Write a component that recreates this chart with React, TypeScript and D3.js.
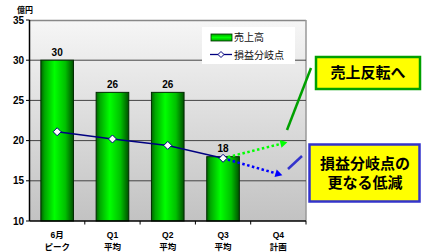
import React from "react";
import * as d3 from "d3";

const categories = ["6月", "Q1", "Q2", "Q3", "Q4"];
const categorySub = ["ピーク", "平均", "平均", "平均", "計画"];
const sales = [30, 26, 26, 18];
const breakEven = [21.1, 20.2, 19.4, 17.8];
const salesForecastQ4 = 19.8;
const breakEvenForecastQ4 = 15.7;
const yTicks = [10, 15, 20, 25, 30, 35];
const unitLabel = "億円";
const legendSales = "売上高";
const legendBreakEven = "損益分岐点";
const callout1 = ["売上反転へ"];
const callout2 = ["損益分岐点の", "更なる低減"];

const W = 422;
const H = 252;
const FONT = "Arial, 'Liberation Sans', 'Noto Sans CJK JP', sans-serif";
const JFONT = "'Noto Sans CJK JP', Arial, sans-serif";

export default function App() {
  const left = 29.5, right = 306, top = 20, bottom = 221;
  const x = d3.scaleBand<string>().domain(categories).range([left, right]).paddingInner(0.41).paddingOuter(0.205);
  const y = d3.scaleLinear().domain([10, 35]).range([bottom, top]);
  const bw = x.bandwidth();
  const cx = (i: number) => (x(categories[i]) as number) + bw / 2;
  const step = x.step();

  const linePath = d3.line<number>().x((_, i) => cx(i)).y((d) => y(d))(breakEven) as string;
  const diamond = (px: number, py: number, r = 4) => `M${px},${py - r}L${px + r},${py}L${px},${py + r}L${px - r},${py}Z`;

  const lastI = breakEven.length - 1;
  const sx = cx(lastI), sy = y(breakEven[lastI]);
  const gEnd: [number, number] = [cx(4) + 9, y(salesForecastQ4)];
  const bEnd: [number, number] = [cx(4) + 4, y(breakEvenForecastQ4)];

  const arrowHead = (from: [number, number], to: [number, number], color: string) => {
    const a = Math.atan2(to[1] - from[1], to[0] - from[0]);
    const L = 7, Wd = 4;
    const p1 = [to[0] - L * Math.cos(a) + Wd * Math.sin(a), to[1] - L * Math.sin(a) - Wd * Math.cos(a)];
    const p2 = [to[0] - L * Math.cos(a) - Wd * Math.sin(a), to[1] - L * Math.sin(a) + Wd * Math.cos(a)];
    return <path d={`M${to[0]},${to[1]}L${p1[0]},${p1[1]}L${p2[0]},${p2[1]}Z`} fill={color} />;
  };
  const shorten = (from: [number, number], to: [number, number], d: number): [number, number] => {
    const a = Math.atan2(to[1] - from[1], to[0] - from[0]);
    return [to[0] - d * Math.cos(a), to[1] - d * Math.sin(a)];
  };
  const gLineEnd = shorten([sx, sy], gEnd, 5);
  const bLineEnd = shorten([sx, sy], bEnd, 5);

  return (
    <svg width={W} height={H} style={{ position: "absolute", left: 0, top: 0, background: "#fff" }} fontFamily={FONT}>
      <defs>
        <linearGradient id="plotBg" x1="0" y1="0" x2="0" y2="1">
          <stop offset="0" stopColor="#f6f6f6" />
          <stop offset="1" stopColor="#c2c2c2" />
        </linearGradient>
        <linearGradient id="barGrad" x1="0" y1="0" x2="1" y2="0">
          <stop offset="0" stopColor="#006400" />
          <stop offset="0.12" stopColor="#00a800" />
          <stop offset="0.42" stopColor="#00ff00" />
          <stop offset="0.75" stopColor="#00c000" />
          <stop offset="1" stopColor="#005000" />
        </linearGradient>
        <linearGradient id="swatchGrad" x1="0" y1="0" x2="0" y2="1">
          <stop offset="0" stopColor="#00a000" />
          <stop offset="0.5" stopColor="#00ff00" />
          <stop offset="1" stopColor="#00a000" />
        </linearGradient>
      </defs>

      {/* plot area */}
      <rect x={left} y={top} width={right - left} height={bottom - top} fill="url(#plotBg)" />
      <line x1={left} x2={right} y1={top + 0.5} y2={top + 0.5} stroke="#888" strokeWidth={1.5} />
      <line x1={right} x2={right} y1={top} y2={bottom} stroke="#999" strokeWidth={1.5} />
      {yTicks.filter((t) => t > 10 && t < 35).map((t) => (
        <line key={t} x1={left} x2={right} y1={y(t)} y2={y(t)} stroke="#444" strokeWidth={1} />
      ))}

      {/* legend */}
      <rect x={202} y={27} width={93} height={37} fill="#fff" />
      <rect x={211} y={34} width={21} height={7} fill="url(#swatchGrad)" stroke="#003000" strokeWidth={0.8} />
      <text x={234} y={41} fontSize={10} fontFamily={JFONT} fill="#111">{legendSales}</text>
      <line x1={210} x2={232} y1={54.5} y2={54.5} stroke="#000080" strokeWidth={1.3} />
      <path d={diamond(221, 54.5, 3)} fill="#fff" stroke="#000080" strokeWidth={1} />
      <text x={234} y={58.5} fontSize={10} fontFamily={JFONT} fill="#111">{legendBreakEven}</text>

      {/* bars */}
      {sales.map((v, i) => (
        <g key={i}>
          <rect x={x(categories[i])} y={y(v)} width={bw} height={bottom - y(v)} fill="url(#barGrad)" stroke="#002a00" strokeWidth={1} />
          <text x={cx(i)} y={y(v) - 4.5} textAnchor="middle" fontSize={10} fontWeight="bold" fill="#000">{v}</text>
        </g>
      ))}

      {/* forecast dotted arrows */}
      <line x1={sx} y1={sy} x2={gLineEnd[0]} y2={gLineEnd[1]} stroke="#00ff00" strokeWidth={2.5} strokeDasharray="2.5 2.5" />
      {arrowHead([sx, sy], gEnd, "#00ff00")}
      <line x1={sx} y1={sy} x2={bLineEnd[0]} y2={bLineEnd[1]} stroke="#0000ff" strokeWidth={2.5} strokeDasharray="2.5 2.5" />
      {arrowHead([sx, sy], bEnd, "#0000ff")}

      {/* break-even line */}
      <path d={linePath} fill="none" stroke="#000080" strokeWidth={1.5} />
      {breakEven.map((v, i) => (
        <path key={i} d={diamond(cx(i), y(v), 4)} fill="#fff" stroke="#000080" strokeWidth={1} />
      ))}

      {/* axes */}
      <line x1={left} x2={left} y1={top} y2={bottom} stroke="#000" strokeWidth={1.5} />
      <line x1={left} x2={right} y1={bottom} y2={bottom} stroke="#000" strokeWidth={1.5} />
      {yTicks.map((t) => (
        <g key={t}>
          <line x1={left - 3.5} x2={left} y1={y(t)} y2={y(t)} stroke="#000" strokeWidth={1} />
          <text x={24} y={y(t) + 3.5} textAnchor="end" fontSize={10} fontWeight="bold" fill="#000">{t}</text>
        </g>
      ))}
      {categories.map((c, i) => (
        <line key={"t" + i} x1={left + step * (i + 1)} x2={left + step * (i + 1)} y1={bottom} y2={bottom + 3.5} stroke="#000" strokeWidth={1} />
      ))}
      {categories.map((c, i) => (
        <g key={"l" + i} fontWeight="bold" fontSize={8.5} textAnchor="middle" fill="#000">
          <text x={cx(i)} y={237.5} fontFamily={FONT}>{c}</text>
          <text x={cx(i)} y={249.5} fontFamily={JFONT}>{categorySub[i]}</text>
        </g>
      ))}
      <text x={17} y={12.5} fontSize={8} fontWeight="bold" fontFamily={JFONT} fill="#000">{unitLabel}</text>

      {/* callouts */}
      <line x1={287} y1={130} x2={311} y2={68} stroke="#00a000" strokeWidth={2.5} />
      <line x1={288} y1={169} x2={302} y2={156} stroke="#3333cc" strokeWidth={2.5} />
      <rect x={316} y={57} width={104} height={32} fill="#ffff00" stroke="#00a000" strokeWidth={2.5} />
      {callout1.map((t, i) => (
        <text key={i} x={368} y={78} textAnchor="middle" fontSize={15} fontWeight="bold" fontFamily={JFONT} fill="#000">{t}</text>
      ))}
      <rect x={309.5} y={144.5} width={110} height={57} fill="#ffff00" stroke="#3333cc" strokeWidth={2.5} />
      {callout2.map((t, i) => (
        <text key={i} x={365} y={168.5 + i * 19} textAnchor="middle" fontSize={15} fontWeight="bold" fontFamily={JFONT} fill="#000">{t}</text>
      ))}
    </svg>
  );
}
